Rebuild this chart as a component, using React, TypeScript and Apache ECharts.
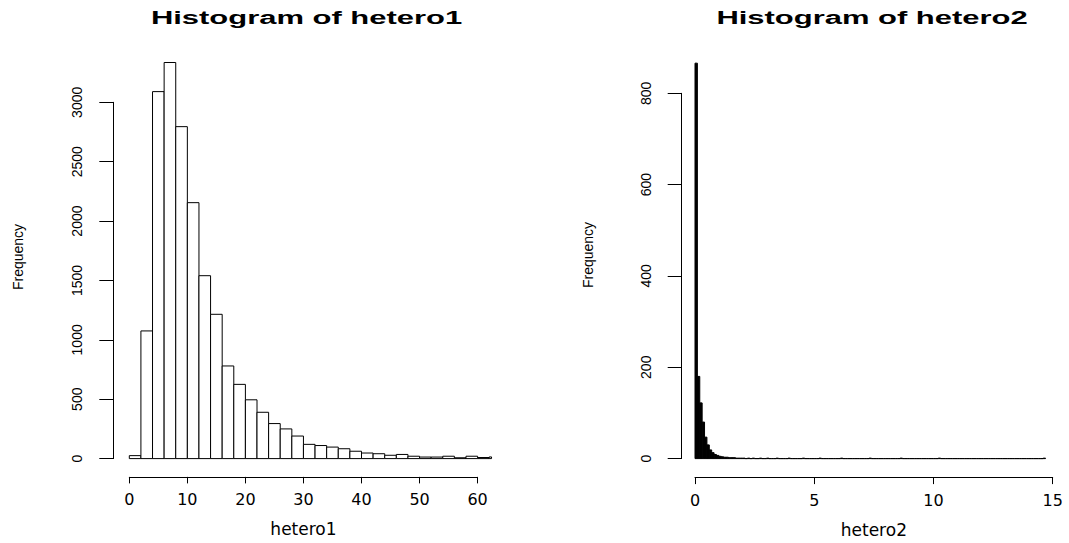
import React, { useEffect, useRef } from "react";
import * as echarts from "echarts";

// ---- data ----
const hetero1BinStart = 0;
const hetero1BinWidth = 2;
const hetero1Counts = [
  25, 1075, 3090, 3335, 2795, 2155, 1540, 1215, 780, 625, 495, 390, 295, 250, 190, 120,
  110, 97, 83, 62, 47, 41, 28, 35, 20, 13, 13, 20, 7, 20, 9, 14,
];
const hetero1XTicks = [0, 10, 20, 30, 40, 50, 60];
const hetero1YTicks = [0, 500, 1000, 1500, 2000, 2500, 3000];

const hetero2BinStart = 0;
const hetero2BinWidth = 0.1;
const hetero2Counts = [
  866, 180, 122, 80, 47, 30, 19, 13, 9, 7, 5, 4, 3, 3, 2, 2, 2, 1, 1, 1,
  1, 0, 1, 0, 1, 0, 0, 1, 0, 0, 1, 0, 0, 0, 1, 0, 0, 0, 0, 1,
  0, 0, 0, 0, 0, 1, 0, 0, 0, 0, 0, 0, 1, 0, 0, 0, 0, 0, 0, 0,
  0, 1, 0, 0, 0, 0, 0, 0, 0, 0, 0, 0, 0, 1, 0, 0, 0, 0, 0, 0,
  0, 0, 0, 0, 0, 0, 1, 0, 0, 0, 0, 0, 0, 0, 0, 0, 0, 0, 0, 0,
  0, 0, 1, 0, 0, 0, 0, 0, 0, 0, 0, 0, 0, 0, 0, 0, 0, 0, 0, 0,
  0, 0, 0, 0, 0, 0, 0, 0, 0, 0, 0, 0, 0, 0, 0, 0, 0, 0, 0, 0,
  0, 0, 0, 0, 0, 0, 1,
];
const hetero2XTicks = [0, 5, 10, 15];
const hetero2YTicks = [0, 200, 400, 600, 800];

const titles = ["Histogram of hetero1", "Histogram of hetero2"];
const xNames = ["hetero1", "hetero2"];
const yName = "Frequency";

// R-style 4% extension of the x-limits (bars are clipped there)
const hetero1XLim = [0, 60];
const hetero1ClipMax = hetero1XLim[1] + 0.04 * (hetero1XLim[1] - hetero1XLim[0]);

function bins(start: number, width: number, counts: number[]) {
  return counts.map((c, i) => {
    const x0 = +(start + i * width).toFixed(6);
    const x1 = +(start + (i + 1) * width).toFixed(6);
    return [x0, x1, c];
  });
}

function makeRenderItem(fill: string, clipMax: number) {
  return (params: any, api: any) => {
    const x0 = api.value(0);
    let x1 = api.value(1);
    const c = api.value(2);
    if (x0 >= clipMax) return null;
    if (x1 > clipMax) x1 = clipMax;
    const p0 = api.coord([x0, c]);
    const p1 = api.coord([x1, 0]);
    return {
      type: "rect",
      shape: { x: p0[0], y: p0[1], width: p1[0] - p0[0], height: p1[1] - p0[1] },
      style: { fill, stroke: "#000", lineWidth: 1 },
    };
  };
}

const FONT = "'Liberation Sans', Arial, sans-serif";
const WIDE = "'DejaVu Sans', sans-serif";

function xAxisCfg(gridIndex: number, ticks: number[], name: string, offset: number) {
  return {
    type: "value",
    gridIndex,
    min: ticks[0],
    max: ticks[ticks.length - 1],
    interval: ticks[1] - ticks[0],
    offset,
    splitLine: { show: false },
    axisLine: { show: true, onZero: false, lineStyle: { color: "#000", width: 1 } },
    axisTick: { show: true, length: 6.5, lineStyle: { color: "#000", width: 1 } },
    axisLabel: {
      color: "#000", fontFamily: WIDE, fontSize: 16, margin: 15,
      showMaxLabel: true, showMinLabel: true,
      formatter: (v: number) => String(v),
    },
    name,
    nameLocation: "middle",
    nameGap: 44,
    nameTextStyle: { color: "#000", fontFamily: WIDE, fontSize: 17 },
  };
}

function yAxisCfg(gridIndex: number, ticks: number[], offset: number) {
  return {
    type: "value",
    gridIndex,
    min: ticks[0],
    max: ticks[ticks.length - 1],
    interval: ticks[1] - ticks[0],
    offset,
    splitLine: { show: false },
    axisLine: { show: true, onZero: false, lineStyle: { color: "#000", width: 1 } },
    axisTick: { show: true, length: 14, lineStyle: { color: "#000", width: 1 } },
    axisLabel: {
      color: "#000", fontFamily: FONT, fontSize: 14, rotate: 90, margin: 29,
      showMaxLabel: true, showMinLabel: true,
      formatter: (v: number) => String(v),
    },
  };
}

export default function App() {
  const ref = useRef<HTMLDivElement>(null);
  useEffect(() => {
    if (!ref.current) return;
    const chart = echarts.init(ref.current, undefined, { renderer: "svg" });
    const titleStyle = { fontFamily: FONT, fontWeight: "bold", fontSize: 18, fill: "#000", align: "center", verticalAlign: "middle" };
    const nameStyle = { fontFamily: FONT, fontSize: 14, fill: "#000", align: "center", verticalAlign: "middle" };
    chart.setOption({
      animation: false,
      backgroundColor: "#fff",
      grid: [
        { left: 129.3, top: 102.3, width: 348.3, height: 356.3, outerBoundsMode: "none", containLabel: false },
        { left: 695, top: 93.3, width: 357.7, height: 365.3, outerBoundsMode: "none", containLabel: false },
      ],
      xAxis: [
        xAxisCfg(0, hetero1XTicks, xNames[0], 18.3),
        xAxisCfg(1, hetero2XTicks, xNames[1], 19),
      ],
      yAxis: [yAxisCfg(0, hetero1YTicks, 16), yAxisCfg(1, hetero2YTicks, 13.3)],
      series: [
        {
          type: "custom",
          xAxisIndex: 0,
          yAxisIndex: 0,
          clip: false,
          encode: { x: [0, 1], y: 2 },
          renderItem: makeRenderItem("#fff", hetero1ClipMax),
          data: bins(hetero1BinStart, hetero1BinWidth, hetero1Counts),
        },
        {
          type: "custom",
          xAxisIndex: 1,
          yAxisIndex: 1,
          clip: false,
          encode: { x: [0, 1], y: 2 },
          renderItem: makeRenderItem("#000", Infinity),
          data: bins(hetero2BinStart, hetero2BinWidth, hetero2Counts),
        },
      ],
      graphic: [
        { type: "text", x: 306.5, y: 18, scaleX: 1.72, style: { ...titleStyle, text: titles[0] } },
        { type: "text", x: 872, y: 18, scaleX: 1.72, style: { ...titleStyle, text: titles[1] } },
        { type: "text", x: 17.5, y: 257, rotation: Math.PI / 2, style: { ...nameStyle, text: yName } },
        { type: "text", x: 587.5, y: 255, rotation: Math.PI / 2, style: { ...nameStyle, text: yName } },
      ],
    });
    return () => chart.dispose();
  }, []);
  return (
    <div
      ref={ref}
      style={{ position: "fixed", left: 0, top: 0, width: 1069, height: 543, background: "#fff" }}
    />
  );
}
